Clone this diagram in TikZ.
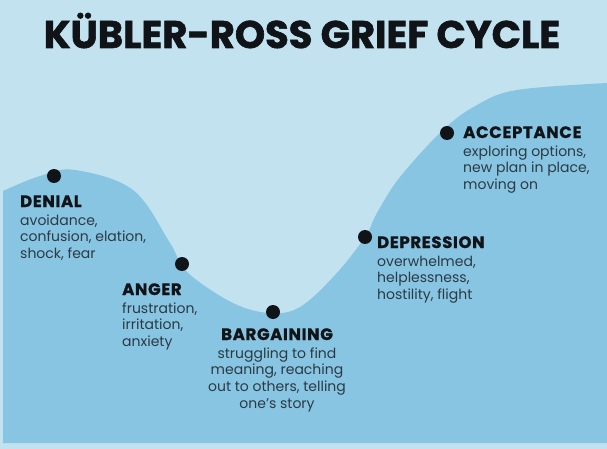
\documentclass[tikz,border=0pt]{standalone}
\usepackage{fontspec}
\setmainfont{Poppins}
\definecolor{bglight}{HTML}{C3E2F0}
\definecolor{bgdark}{HTML}{88C5E2}
\definecolor{desctext}{HTML}{2B3A44}
\definecolor{headtext}{HTML}{101418}
\newcommand{\stagehead}[1]{{\fontsize{16.5}{15}\selectfont\bfseries\addfontfeature{LetterSpace=4,FakeBold=1}\color{headtext}#1}}
\begin{document}
\begin{tikzpicture}[x=1pt,y=-1pt,
  stagedot/.style={circle,fill=headtext,minimum size=14pt,inner sep=0pt},
  stagelbl/.style={inner sep=0pt,align=left,font=\fontsize{14}{16.8}\selectfont,text=desctext},
  stagelblc/.style={stagelbl,align=center}]
\useasboundingbox (0,0) rectangle (607,449);
\fill[bglight] (0,0) rectangle (607,449);
\fill[bgdark] (3,443) -- plot[smooth,tension=0.6] coordinates {
  (3,191) (40,176) (75,170) (133,190) (170,243) (187,272) (233,303) (270,313)
  (300,307) (335,275) (365,237) (377,213) (400,177) (443,130) (477,105)
  (517,90) (607,83)} -- (607,443) -- cycle;
\node[font=\fontsize{38.5}{38}\selectfont\bfseries\addfontfeature{FakeBold=1.5},text=headtext,anchor=base] (title) at (302,48) {KÜBLER-ROSS GRIEF CYCLE};
\node[stagedot] (denial) at (54,176) {};
\node[stagedot] (anger) at (182,264) {};
\node[stagedot] (bargaining) at (273,312) {};
\node[stagedot] (depression) at (365,237) {};
\node[stagedot] (acceptance) at (447,133) {};
\node[stagelbl,anchor=base west] (denialtxt) at (20,258.6) {\stagehead{DENIAL}\\[1.2pt] avoidance,\\ confusion, elation,\\ shock, fear};
\node[stagelbl,anchor=base west] (angertxt) at (122,346.6) {\stagehead{ANGER}\\[1.2pt] frustration,\\ irritation,\\ anxiety};
\node[stagelblc,anchor=base] (bargainingtxt) at (277,408.4) {\stagehead{BARGAINING}\\[1.2pt] struggling to find\\ meaning, reaching\\ out to others, telling\\ one’s story};
\node[stagelbl,anchor=base west] (depressiontxt) at (377,299.6) {\stagehead{DEPRESSION}\\[1.2pt] overwhelmed,\\ helplessness,\\ hostility, flight};
\node[stagelbl,anchor=base west] (acceptancetxt) at (463,189.6) {\stagehead{ACCEPTANCE}\\[1.2pt] exploring options,\\ new plan in place,\\ moving on};
\end{tikzpicture}
\end{document}
